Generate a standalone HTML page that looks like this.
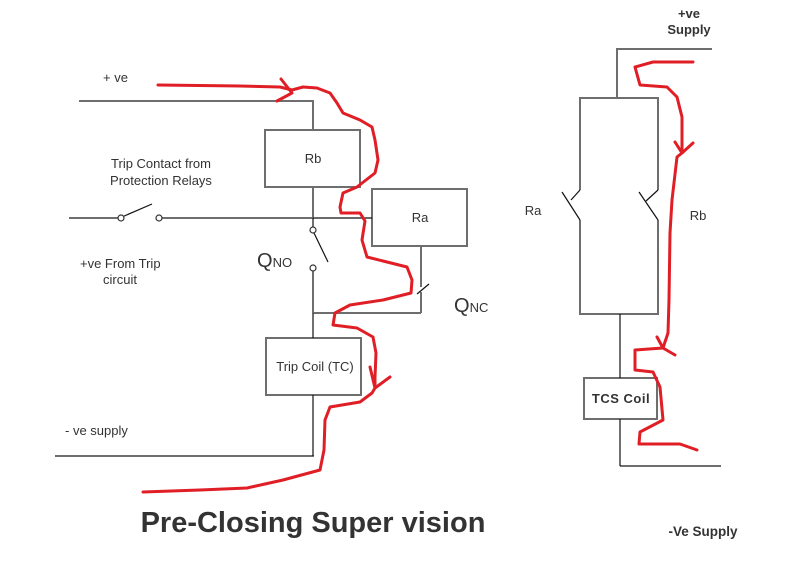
<!DOCTYPE html>
<html>
<head>
<meta charset="utf-8">
<style>
  html,body{margin:0;padding:0;background:#fff;}
  svg{display:block;}
  text{font-family:"Liberation Sans",Arial,sans-serif;}
</style>
</head>
<body>
<svg width="785" height="583" viewBox="0 0 785 583" xmlns="http://www.w3.org/2000/svg">
  <rect width="785" height="583" fill="#fff"/>
  <!-- LEFT CIRCUIT -->
  <g stroke="#6e6e6e" stroke-width="2" fill="none">
    <line x1="79" y1="101" x2="314" y2="101"/>
    <line x1="313" y1="101" x2="313" y2="130"/>
    <rect x="265" y="130" width="95" height="57" fill="#fff"/>
    <line x1="313" y1="187" x2="313" y2="218"/>
    <line x1="69" y1="218" x2="118" y2="218"/>
    <line x1="162" y1="218" x2="313" y2="218"/>
    <rect x="372" y="189" width="95" height="57" fill="#fff"/>
    <line x1="421" y1="246" x2="421" y2="287"/>
    <line x1="421" y1="292" x2="421" y2="313"/>
    <line x1="313" y1="313" x2="421" y2="313"/>
    <line x1="313" y1="271" x2="313" y2="313"/>
    <rect x="266" y="338" width="95" height="57" fill="#fff"/>
    <line x1="55" y1="456" x2="314" y2="456"/>
  </g>
  <g stroke="#111" stroke-width="1.2" fill="none">
    <line x1="313" y1="218" x2="372" y2="218"/>
    <line x1="313" y1="218" x2="313" y2="227"/>
    <line x1="313" y1="313" x2="313" y2="338"/>
    <line x1="313" y1="395" x2="313" y2="456"/>
    <line x1="122" y1="217" x2="152" y2="204"/>
    <line x1="314" y1="233" x2="328" y2="262"/>
    <line x1="417" y1="294" x2="429" y2="284"/>
  </g>
  <g stroke="#333" stroke-width="1.2" fill="#fff">
    <circle cx="121" cy="218" r="3"/>
    <circle cx="159" cy="218" r="3"/>
    <circle cx="313" cy="230" r="3"/>
    <circle cx="313" cy="268" r="3"/>
  </g>
  <g fill="#333" font-size="13">
    <text x="103" y="82">+ ve</text>
    <text x="313" y="163" text-anchor="middle">Rb</text>
    <text x="420" y="222" text-anchor="middle">Ra</text>
    <text x="161" y="168" text-anchor="middle">Trip Contact from</text>
    <text x="161" y="185" text-anchor="middle">Protection Relays</text>
    <text x="80" y="268">+ve From Trip</text>
    <text x="103" y="284">circuit</text>
    <text x="315" y="371" text-anchor="middle">Trip Coil (TC)</text>
    <text x="65" y="435">- ve supply</text>
  </g>
  <text x="257" y="267" font-size="20" fill="#333">Q<tspan font-size="13">NO</tspan></text>
  <text x="454" y="312" font-size="20" fill="#333">Q<tspan font-size="13">NC</tspan></text>
  <text x="313" y="532" font-size="29" font-weight="bold" fill="#333" text-anchor="middle">Pre-Closing Super vision</text>

  <!-- RIGHT CIRCUIT -->
  <g stroke="#6e6e6e" stroke-width="2" fill="none">
    <line x1="617" y1="49" x2="712" y2="49"/>
    <line x1="617" y1="48" x2="617" y2="98"/>
    <line x1="579" y1="98" x2="659" y2="98"/>
    <line x1="580" y1="98" x2="580" y2="190"/>
    <line x1="580" y1="220" x2="580" y2="315"/>
    <line x1="658" y1="98" x2="658" y2="190"/>
    <line x1="658" y1="220" x2="658" y2="315"/>
    <line x1="579" y1="314" x2="659" y2="314"/>
    <rect x="584" y="378" width="73" height="41" fill="#fff"/>
    <line x1="620" y1="466" x2="721" y2="466"/>
  </g>
  <g stroke="#111" stroke-width="1.2" fill="none">
    <line x1="620" y1="314" x2="620" y2="378"/>
    <line x1="620" y1="419" x2="620" y2="466"/>
    <line x1="562" y1="192" x2="580" y2="220"/>
    <line x1="580" y1="190" x2="571" y2="200"/>
    <line x1="639" y1="192" x2="658" y2="220"/>
    <line x1="658" y1="190" x2="646" y2="201"/>
  </g>
  <g fill="#333">
    <text x="689" y="18" font-size="13" font-weight="bold" text-anchor="middle">+ve</text>
    <text x="689" y="34" font-size="13" font-weight="bold" text-anchor="middle">Supply</text>
    <text x="533" y="215" font-size="13" text-anchor="middle">Ra</text>
    <text x="698" y="220" font-size="13" text-anchor="middle">Rb</text>
    <text x="621" y="403" font-size="13" font-weight="bold" text-anchor="middle" letter-spacing="0.5">TCS Coil</text>
    <text x="703" y="536" font-size="13.5" font-weight="bold" text-anchor="middle">-Ve Supply</text>
  </g>

  <!-- RED PATHS -->
  <g stroke="#e01e26" stroke-width="3" fill="none" stroke-linecap="round" stroke-linejoin="round">
    <path d="M158,85 L240,86 L280,87 L292,90 L303,87 L317,88 L330,93 L337,103 L343,113 L360,120 L372,127 L375,140 L378,160 L375,173 L357,187 L343,193 L340,207 L341,213 L360,213 L365,221 L362,240 L367,257 L383,261 L407,267 L412,280 L411,293 L383,300 L350,305 L335,313 L333,325 L357,328 L373,337 L376,353 L375,377 L375,388 L372,393 L360,402 L330,407 L325,420 L324,450 L320,470 L283,480 L247,488 L200,490 L143,492"/>
    <path d="M281,79 L292,93 L277,101"/>
    <path d="M370,367 L375,388 L390,377"/>
    <path d="M693,62 L653,62 L635,67 L640,85 L667,87 L677,97 L682,117 L682,140 L682,153 L677,157 L672,200 L670,233 L669,300 L668,333 L663,348 L635,350 L635,370 L653,372 L660,387 L663,420 L640,432 L639,444 L680,444 L697,450"/>
    <path d="M675,142 L682,153 L693,143"/>
    <path d="M657,337 L663,348 L675,355"/>
  </g>
</svg>
</body>
</html>
